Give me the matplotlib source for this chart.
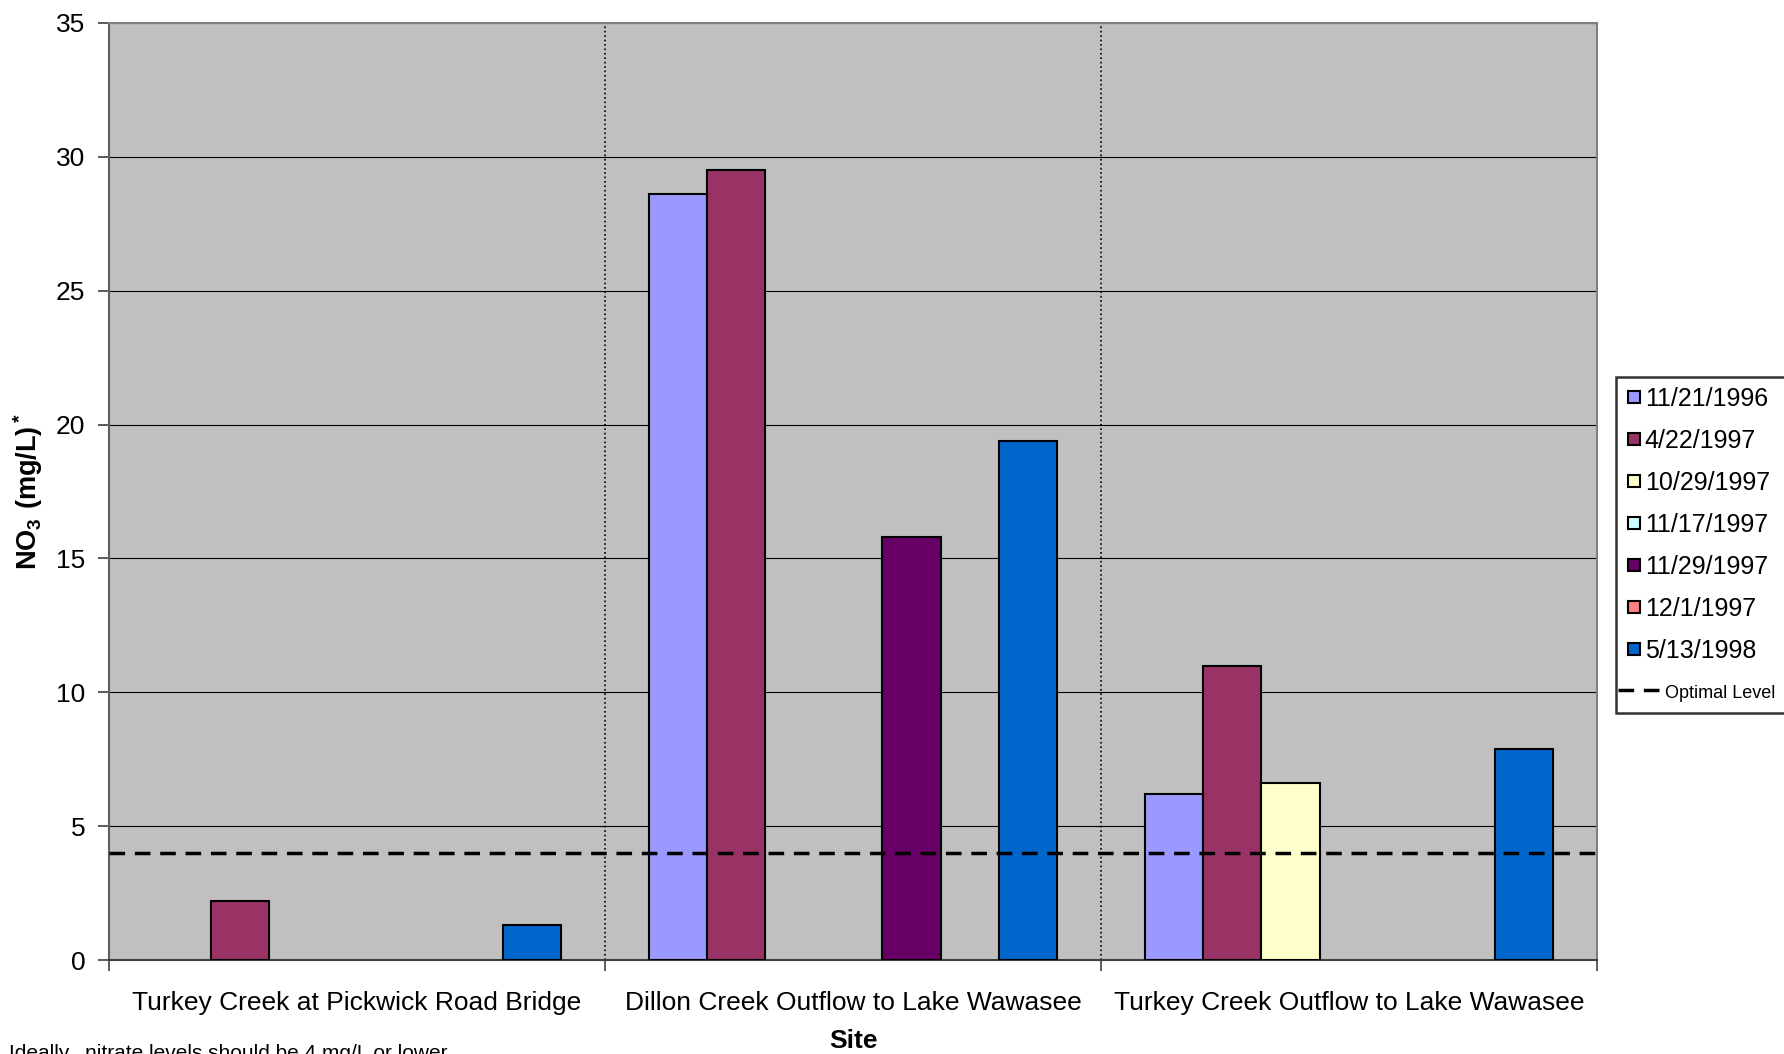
import numpy as np
import matplotlib
matplotlib.use('Agg')
from matplotlib import pyplot as plt
from matplotlib.lines import Line2D
from matplotlib.legend_handler import HandlerLine2D

plt.rcParams['font.family'] = ['Liberation Sans', 'DejaVu Sans']
plt.rcParams['mathtext.fontset'] = 'custom'
plt.rcParams['mathtext.rm'] = 'Liberation Sans'
plt.rcParams['mathtext.bf'] = 'Liberation Sans:bold'

# data
sites = ['Turkey Creek at Pickwick Road Bridge',
         'Dillon Creek Outflow to Lake Wawasee',
         'Turkey Creek Outflow to Lake Wawasee']
dates = ['11/21/1996', '4/22/1997', '10/29/1997', '11/17/1997',
         '11/29/1997', '12/1/1997', '5/13/1998']
colors = ['#9999FF', '#993366', '#FFFFCC', '#CCFFFF', '#660066', '#FF8080', '#0066CC']

nov21_1996 = [np.nan, 28.6, 6.2]
apr22_1997 = [2.2, 29.5, 11.0]
oct29_1997 = [np.nan, np.nan, 6.6]
nov17_1997 = [np.nan, np.nan, np.nan]
nov29_1997 = [np.nan, 15.8, np.nan]
dec1_1997 = [np.nan, np.nan, np.nan]
may13_1998 = [1.3, 19.4, 7.9]
series = [nov21_1996, apr22_1997, oct29_1997, nov17_1997, nov29_1997, dec1_1997, may13_1998]

optimal = 4
DASH = (4.5, 2.8)


# dashed legend line that runs from the frame edge past the handle box
class LongDash(HandlerLine2D):
    def create_artists(self, legend, orig_handle, xdescent, ydescent, width, height,
                       fontsize, trans):
        y = height / 2 - ydescent
        ln = Line2D([-xdescent - 6, width + 14], [y, y], color='black',
                    linestyle='--', linewidth=2.5, dashes=DASH)
        ln.set_transform(trans)
        return [ln]


fig = plt.figure(figsize=(17.84, 10.54), dpi=100)
ax = fig.add_axes([109/1784, 1-960/1054, (1597-109)/1784, (960-23)/1054])
ax.set_facecolor('#C0C0C0')

x = np.arange(len(sites))
w = 1 / 8.5
for i, (d, vals) in enumerate(zip(dates, series)):
    ax.bar(x + (i - 3) * w, vals, w, color=colors[i], edgecolor='black', linewidth=1.5,
           zorder=3, label=d)

ax.axhline(optimal, color='black', linestyle='--', linewidth=2.5, dashes=DASH, zorder=4)

# separators between sites
for b in [0.5, 1.5]:
    ax.axvline(b, color='black', linestyle=':', linewidth=1.2, zorder=2)

ax.set_xlim(-0.5, 2.5)
ax.set_ylim(0, 35)
ax.set_yticks(range(0, 36, 5))
ax.yaxis.grid(True, color='black', linewidth=0.8, zorder=1)
ax.set_axisbelow(True)

ax.set_xticks([-0.5, 0.5, 1.5, 2.5])
ax.set_xticklabels([])
ax.set_xticks(x, minor=True)
ax.set_xticklabels(sites, minor=True, fontsize=19)
ax.tick_params(axis='x', which='major', direction='out', length=8, width=1.2, color='#404040')
ax.tick_params(axis='x', which='minor', length=0, pad=22)
ax.tick_params(axis='y', direction='out', length=8, width=1.2, color='#404040', labelsize=19, pad=9)

for s in ['top', 'right']:
    ax.spines[s].set_color('#808080')
    ax.spines[s].set_linewidth(1.5)
ax.spines['left'].set_color('#606060')
ax.spines['left'].set_linewidth(1.5)
ax.spines['bottom'].set_color('#404040')
ax.spines['bottom'].set_linewidth(1.5)

ax.set_ylabel(r'$\mathbf{NO_3\ (mg/L)^*}$', fontsize=19.5, labelpad=8)
fig.text((109+1597)/2/1784, 1-1041/1054, 'Site', fontsize=19, fontweight='bold',
         ha='center', va='center')
fig.text(0.005, 1-1044/1054, 'Ideally,  nitrate levels should be 4 mg/L or lower.',
         fontsize=15, ha='left', va='top')

handles = [Line2D([], [], marker='s', linestyle='none', markersize=8.5,
                  markerfacecolor=c, markeredgecolor='black', markeredgewidth=1.5)
           for c in colors]
opt_handle = Line2D([], [], color='black', linestyle='--')
handles.append(opt_handle)
labels = dates + ['    Optimal Level']
leg = fig.legend(handles, labels, loc='upper left', bbox_to_anchor=(1616/1784, 1-377/1054),
                 borderaxespad=0, fontsize=18, frameon=True, fancybox=False,
                 handlelength=0.6, handletextpad=0.15, labelspacing=0.72,
                 borderpad=0.4, edgecolor='black', handler_map={opt_handle: LongDash()})
leg.get_frame().set_linewidth(1.8)
leg.get_texts()[-1].set_fontsize(13)

fig.savefig('out.png', dpi=100)
